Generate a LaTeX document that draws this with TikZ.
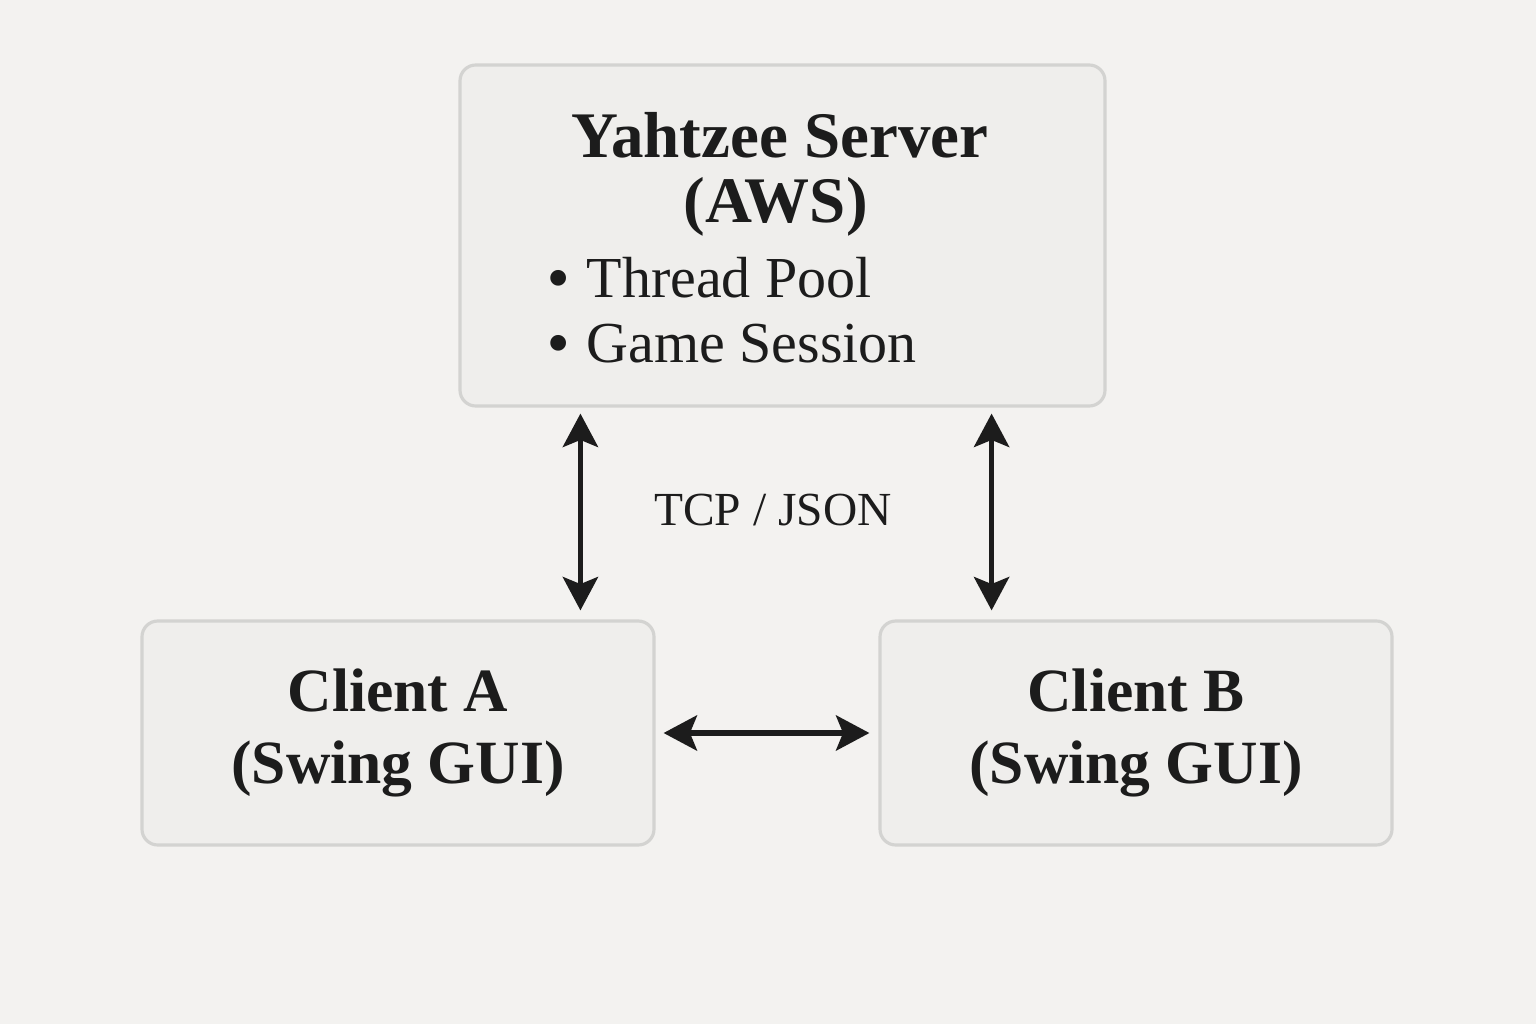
\documentclass[tikz,border=0pt]{standalone}
\usepackage{fontspec}
\setmainfont{Liberation Serif}
\usetikzlibrary{arrows.meta}

\definecolor{paper}{HTML}{F3F2F0}
\definecolor{boxfill}{HTML}{EFEEEC}
\definecolor{boxline}{HTML}{D3D3D1}
\definecolor{ink}{HTML}{1C1C1C}

\newcommand{\dotmark}{\textbf{•}\hspace{5pt}}

\begin{document}
\begin{tikzpicture}[
    box/.style={draw=boxline, line width=0.9pt, fill=boxfill, rounded corners=4.5pt, inner sep=0pt},
    title/.style={text=ink, font=\bfseries\fontsize{18.5}{18.5}\selectfont, anchor=base},
    items/.style={text=ink, font=\fontsize{16.5}{18.4}\selectfont, anchor=base west, inner sep=0pt, align=left},
    client/.style={box, minimum width=5.12cm, minimum height=2.24cm, text=ink, align=center,
        font=\bfseries\fontsize{17.5}{20.5}\selectfont},
    link/.style={ink, line width=1.5pt, {Stealth[length=9.5pt,width=10pt,inset=2pt]}-{Stealth[length=9.5pt,width=10pt,inset=2pt]}}
]
    \fill[paper] (0,0) rectangle (15.36,10.24);
    \useasboundingbox (0,0) rectangle (15.36,10.24);

    \node[box, minimum width=6.45cm, minimum height=3.41cm] (server) at (7.825,7.885) {};
    \node[title] (srvname) at (7.80,8.66) {Yahtzee Server};
    \node[title] (srvhost) at (7.755,8.01) {(AWS)};
    \node[items] (srvitems) at (5.48,6.62) {\dotmark Thread Pool\\\dotmark Game Session};

    \node[client] (clientA) at (3.98,2.91) {Client A\\(Swing GUI)};
    \node[client] (clientB) at (11.36,2.91) {Client B\\(Swing GUI)};

    \node[text=ink, font=\fontsize{13.5}{13.5}\selectfont] (proto) at (7.73,5.14) {TCP / JSON};

    \coordinate (upA) at ([xshift=1.22cm]server.south west);
    \coordinate (upB) at ([xshift=-1.15cm]server.south east);
    \draw[link, shorten <=0.06cm, shorten >=0.09cm] (upA) -- (upA |- clientA.north);
    \draw[link, shorten <=0.06cm, shorten >=0.09cm] (upB) -- (upB |- clientB.north);
    \draw[link, shorten <=0.08cm, shorten >=0.09cm] (clientA.east) -- (clientB.west);
\end{tikzpicture}
\end{document}
